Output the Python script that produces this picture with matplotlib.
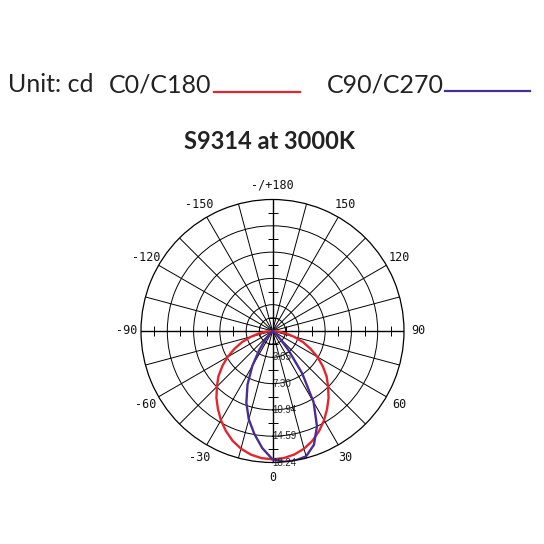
import matplotlib
matplotlib.use("Agg")
import matplotlib.pyplot as plt
from matplotlib.lines import Line2D
from matplotlib.path import Path
import numpy as np

# gamma angles (deg) and intensities (cd)
angles = [-90, -85, -80, -75, -70, -65, -60, -55, -50, -45, -40, -35, -30, -25,
          -20, -15, -10, -5, 0, 5, 10, 15, 20, 25, 30, 35, 40, 45, 50, 55, 60,
          65, 70, 75, 80, 85, 90]
c0_c180 = [0.0, 0.8, 1.9, 3.1, 4.5, 5.8, 7.2, 8.5, 9.8, 10.9, 12.1, 13.2, 14.3,
           15.3, 16.2, 16.9, 17.4, 17.7, 17.8, 17.7, 17.4, 16.9, 16.2, 15.3,
           14.3, 13.2, 12.1, 10.9, 9.8, 8.5, 7.2, 5.8, 4.5, 3.1, 1.9, 0.8, 0.0]
c90_c270 = [0.0, 0.0, 0.0, 0.0, 0.0, 0.0, 0.0, 0.1, 0.3, 0.6, 1.5, 3.2, 5.6,
            8.2, 10.6, 12.7, 14.5, 16.3, 17.8, 18.2, 18.24, 18.0, 16.8, 14.6,
            11.4, 7.2, 3.4, 1.3, 0.5, 0.1, 0.0, 0.0, 0.0, 0.0, 0.0, 0.0, 0.0]

r_max = 18.24
ring_values = [3.65, 7.30, 10.94, 14.59, 18.24]
ring_labels = ["3.65", "7.30", "10.94", "14.59", "18.24"]
angle_labels = {0: "0", 30: "30", 60: "60", 90: "90", 120: "120", 150: "150",
                180: "-/+180", 210: "-150", 240: "-120", 270: "-90",
                300: "-60", 330: "-30"}

red = "#e3262e"
purple = "#4a2d94"

fig = plt.figure(figsize=(5.44, 5.44), dpi=100)
fig.patch.set_facecolor("white")

# header
fig.text(8 / 544, 1 - 85 / 544, "Unit: cd", fontsize=18, family="Lato",
         va="center", color="#222222")
fig.text(109 / 544, 1 - 85 / 544, "C0/C180", fontsize=18, family="Lato",
         va="center", color="#222222")
fig.text(327 / 544, 1 - 85 / 544, "C90/C270", fontsize=18, family="Lato",
         va="center", color="#222222")
fig.add_artist(Line2D([214 / 544, 300 / 544], [1 - 92 / 544] * 2, color=red, lw=1.6))
fig.add_artist(Line2D([445 / 544, 530 / 544], [1 - 91 / 544] * 2, color=purple, lw=1.6))
fig.text(270 / 544, 1 - 141 / 544, "S9314 at 3000K", fontsize=17, family="Lato",
         fontweight="bold", ha="center", va="center", color="#222222")

ax = fig.add_axes([141 / 544, 81.5 / 544, 263 / 544, 263 / 544], projection="polar")
ax.set_theta_zero_location("S")
ax.set_theta_direction(1)
ax.set_ylim(0, r_max)

ticks = list(range(0, 360, 15))
ax.set_thetagrids(ticks, [angle_labels.get(t, "") for t in ticks],
                  family="DejaVu Sans Mono", fontsize=8.5, color="#111111")
ax.tick_params(axis="x", pad=0)
half = r_max / 10
ax.set_rgrids([half] + ring_values[:-1], labels=[""] * 5)
ax.grid(True, color="black", lw=0.7)
ax.spines["polar"].set_color("black")
ax.spines["polar"].set_linewidth(0.9)

for t in [0, 90, 180, 270]:
    ax.axvline(np.deg2rad(t), color="black", lw=1.0)

# small tick marks on the main axes, halfway between rings
hbar = Path([(-1, 0), (1, 0)], [Path.MOVETO, Path.LINETO])
vbar = Path([(0, -1), (0, 1)], [Path.MOVETO, Path.LINETO])
mids = [half + 2 * half * i for i in range(5)]
for t in [0, 180]:
    ax.plot([np.deg2rad(t)] * 5, mids, ls="none", marker=hbar, ms=6.5, mew=0.7,
            color="black")
for t in [90, 270]:
    ax.plot([np.deg2rad(t)] * 5, mids, ls="none", marker=vbar, ms=6.5, mew=0.7,
            color="black")

th = np.deg2rad(angles)
ax.plot(th, c0_c180, color=red, lw=1.7)
ax.plot(th, c90_c270, color=purple, lw=1.7)

for r, lab in zip(ring_values, ring_labels):
    ax.text(0, r, lab, ha="left", va="center", fontsize=7,
            family="Liberation Sans", color="#222222")

fig.savefig("out.png", dpi=100)
